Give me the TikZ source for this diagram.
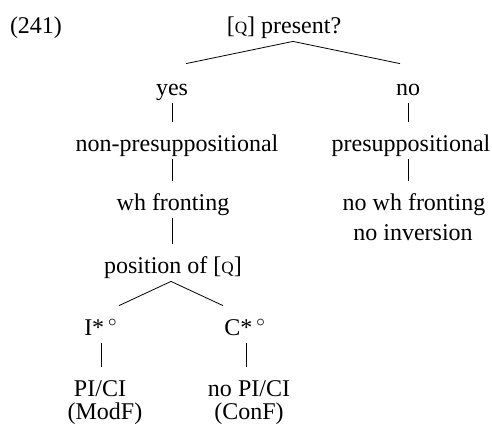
\documentclass[tikz,border=0pt]{standalone}
\usepackage{fontspec}
\setmainfont{Liberation Serif}
\newcommand{\qf}{[{\fontsize{8.6}{9}\selectfont Q}]}
\tikzset{lbl/.style={anchor=base,inner xsep=0pt,inner ysep=3.5pt,text height=11pt,text depth=.5pt}}
\begin{document}
\begin{tikzpicture}[x=.5pt,y=-.5pt,font=\fontsize{12}{14.5}\selectfont]
\useasboundingbox (0,0) rectangle (492,425);
\node[lbl] (ex) at (36,33) {(241)};
\node[lbl] (top) at (284,33) {\qf{} present?};
\node[lbl] (yes) at (172,95) {yes};
\node[lbl] (no) at (408,95) {no};
\node[lbl] (nonpre) at (177,151) {non-presuppositional};
\node[lbl] (pre) at (411,151) {presuppositional};
\node[lbl] (whf) at (173,210) {wh fronting};
\node[lbl] (nowhf) at (414,210) {no wh fronting};
\node[lbl] (noinv) at (413,240) {no inversion};
\node[lbl] (pos) at (173,273) {position of \qf};
\node[lbl] (istar) at (101,335) {I*\,$^{\circ}$};
\node[lbl] (cstar) at (245,335) {C*\,$^{\circ}$};
\node[lbl] (pici) at (100,396) {PI/CI};
\node[lbl] (modf) at (105,419) {(ModF)};
\node[lbl] (nopici) at (249,396) {no PI/CI};
\node[lbl] (conf) at (249,419) {(ConF)};
% branches
\draw ([xshift=4.5pt]top.south) -- ([xshift=7pt,yshift=1pt]yes.north);
\draw ([xshift=4.5pt]top.south) -- ([xshift=-4pt,yshift=1pt]no.north);
\draw (yes.south) -- (yes.south |- nonpre.north);
\draw (no.south) -- (no.south |- pre.north);
\draw (yes.south |- nonpre.south) -- (yes.south |- whf.north);
\draw (no.south |- pre.south) -- (no.south |- nowhf.north);
\draw (yes.south |- whf.south) -- (yes.south |- pos.north);
\draw ([xshift=-1pt]pos.south) -- ([xshift=9pt]istar.north);
\draw ([xshift=-1pt]pos.south) -- ([xshift=-11pt]cstar.north);
\draw (istar.south) -- (istar.south |- pici.north);
\draw ([xshift=.5pt]cstar.south) -- ([xshift=.5pt]cstar.south |- nopici.north);
\end{tikzpicture}
\end{document}
